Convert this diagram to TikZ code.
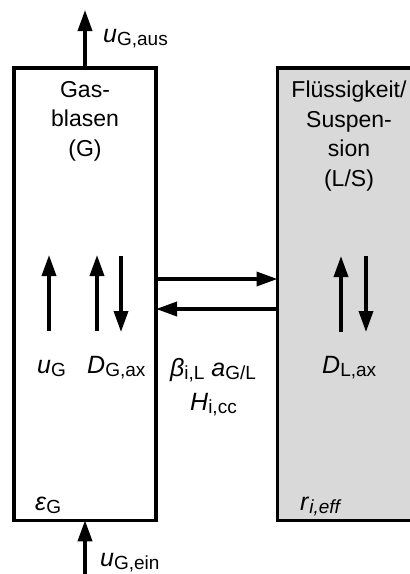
\documentclass[tikz,border=0pt]{standalone}
\usepackage{fontspec}
\setmainfont{Liberation Sans}
\usetikzlibrary{arrows.meta}
\definecolor{lsgray}{HTML}{D9D9D9}
% lowered, smaller index text
\newcommand\lowidx[1]{\raisebox{-0.25ex}{\fontsize{19}{19}\selectfont #1}}
\newcommand\sym[2]{\textit{#1}\lowidx{#2}}
\begin{document}
\begin{tikzpicture}[x=1pt,y=-1pt,
  phase/.style={draw,line width=3.5pt,minimum width=142pt,minimum height=452.5pt,
    inner sep=0pt,outer sep=0pt},
  arr/.style={line width=3.5pt,-{Triangle[length=21pt,width=14pt]}},
  btxt/.style={align=center,font=\fontsize{23}{29.5}\selectfont,anchor=north,inner sep=0pt},
  lab/.style={anchor=base west,inner sep=0pt,font=\fontsize{25}{29}\selectfont}]
\useasboundingbox (0,0) rectangle (410,574);
\clip (0,0) rectangle (410,574);

% the two phases
\node[phase] (gas) at (85,294) {};
\node[phase,fill=lsgray] (liq) at (348.5,294) {};

% phase names
\node[btxt] (gname) at (85,81) {Gas-\\blasen\\(G)};
\node[btxt] (lname) at (349,81) {Flüssigkeit/\\Suspen-\\sion\\(L/S)};

% gas inlet and outlet
\coordinate (gout) at (85,10);
\coordinate (gin) at (85,580);
\draw[arr] (gas.north) -- (gout);
\draw[arr] (gin) -- (gas.south);
\node[lab] (uaus) at (103,42) {\sym{u}{G,aus}};
\node[lab] (uein) at (100,566) {\sym{u}{G,ein}};

% mass transfer between the phases
\draw[arr] ([yshift=15pt]gas.east) -- ([yshift=15pt]liq.west);
\draw[arr] ([yshift=-15pt]liq.west) -- ([yshift=-15pt]gas.east);
\node[lab] (beta) at (170,376) {\textit{β}\lowidx{i,L} \sym{a}{G/L}};
\node[lab] (henry) at (190,410) {\sym{H}{i,cc}};

% convection and axial dispersion in the gas
\coordinate (ub) at (49,331);  \coordinate (ut) at (49,255);
\coordinate (db) at (97,331);  \coordinate (dt) at (97,255);
\coordinate (et) at (121,256); \coordinate (eb) at (121,332);
\draw[arr] (ub) -- (ut);
\draw[arr] (db) -- (dt);
\draw[arr] (et) -- (eb);
\node[lab] (ug) at (37,373) {\sym{u}{G}};
\node[lab] (dg) at (87,373) {\sym{D}{G,ax}};

% axial dispersion in the liquid
\coordinate (lb) at (341,332); \coordinate (lt) at (341,256);
\coordinate (mt) at (366,256); \coordinate (mb) at (366,332);
\draw[arr] (lb) -- (lt);
\draw[arr] (mt) -- (mb);
\node[lab] (dl) at (322,373) {\sym{D}{L,ax}};

% hold-up and reaction rate
\node[lab] (eps) at (35,510) {\sym{ε}{G}};
\node[lab] (reff) at (300,510) {\textit{r}\lowidx{\textit{i,eff}}};
\end{tikzpicture}
\end{document}
